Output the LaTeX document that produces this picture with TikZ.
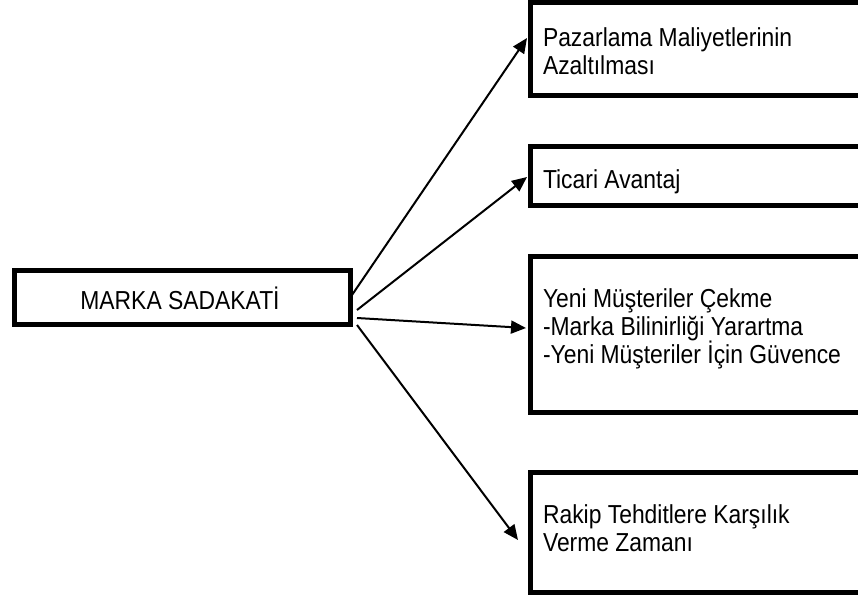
\documentclass[tikz,border=0pt]{standalone}
\usepackage{fontspec}
\setmainfont{Liberation Sans}
\newfontfamily\boxfont[FakeStretch=0.88]{Liberation Sans}
\usetikzlibrary{arrows.meta,calc}
\begin{document}
\begin{tikzpicture}[x=1pt,y=-1pt,
  frame/.style={draw=black,line width=5pt,rectangle,inner sep=0pt,outer sep=0pt},
  label/.style={inner sep=0pt,outer sep=0pt,anchor=base west,align=left,
    font=\boxfont\fontsize{26}{28}\selectfont},
  link/.style={draw=black,line width=2pt,-{Triangle[length=15pt,width=13pt]}}]
\useasboundingbox (0,0) rectangle (858,599);
\clip (0,0) rectangle (858,599);
\fill[white] (0,0) rectangle (858,599);

% source box
\node[frame,minimum width=336pt,minimum height=54pt] (src) at (182.5,297.5) {};
\node[inner sep=0pt,anchor=base,font=\boxfont\fontsize{26}{28}\selectfont] (srct) at (180,309) {MARKA SADAKATİ};

% target boxes (their right sides run past the page edge)
\node[frame,minimum width=350pt,minimum height=93pt]  (b1) at (705.5,49) {};
\node[frame,minimum width=350pt,minimum height=59pt]  (b2) at (705.5,176) {};
\node[frame,minimum width=350pt,minimum height=156pt] (b3) at (705.5,334.5) {};
\node[frame,minimum width=350pt,minimum height=120pt] (b4) at (705.5,532.5) {};

% multi-line labels are placed by the baseline of their last line
\node[label] (t1) at (543,75) {Pazarlama Maliyetlerinin\\Azaltılması};
\node[label] (t2) at (543,188) {Ticari Avantaj};
\node[label] (t3) at (543,363) {Yeni Müşteriler Çekme\\-Marka Bilinirliği Yarartma\\-Yeni Müşteriler İçin Güvence};
\node[label] (t4) at (543,551) {Rakip Tehditlere Karşılık\\Verme Zamanı};

% connectors
\draw[link] ($(src.east)+(1.5,-2.5)$) -- ($(b1.west)+(-3.5,-11)$);
\draw[link] ($(src.east)+(6.5,12.5)$) -- ($(b2.west)+(-3.5,1)$);
\draw[link] ($(src.east)+(6.5,20.5)$) -- ($(b3.west)+(-4.5,-6.5)$);
\draw[link] ($(src.east)+(6.5,27.5)$) -- ($(b4.west)+(-12.5,7.5)$);
\end{tikzpicture}
\end{document}
